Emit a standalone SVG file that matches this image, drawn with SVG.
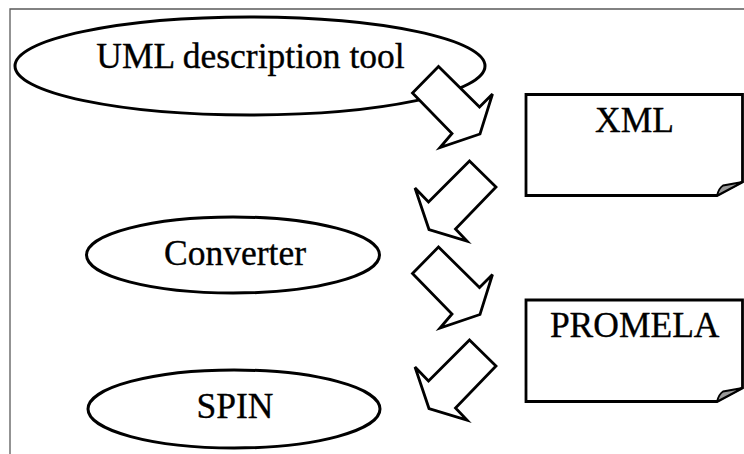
<svg xmlns="http://www.w3.org/2000/svg" width="744" height="454" viewBox="0 0 744 454">
  <style>
    .frame { fill: none; stroke: #5a5a5a; stroke-width: 1.3; }
    .oval { fill: #ffffff; stroke: #000000; stroke-width: 3; }
    .page { fill: #ffffff; stroke: #000000; stroke-width: 2.8; stroke-linejoin: miter; }
    .curl { fill: #9a9a9a; stroke: #000000; stroke-width: 1.8; stroke-linejoin: round; }
    .flow { fill: #ffffff; stroke: #000000; stroke-width: 2.8; stroke-linejoin: miter; }
    .label { font-family: "Liberation Serif", "Times New Roman", serif; font-size: 35.5px; fill: #000000; stroke: #000000; stroke-width: 0.35; text-anchor: middle; }
  </style>

  <rect x="0" y="0" width="744" height="454" fill="#ffffff"/>
  <!-- outer frame: only top and left edges fall inside the canvas -->
  <path class="frame" d="M744,9 H10 V454"/>

  <g id="uml-tool">
    <ellipse class="oval" cx="250" cy="66" rx="235" ry="49"/>
    <text class="label" x="250.5" y="68">UML description tool</text>
  </g>

  <g id="xml">
    <path class="page" d="M526,94.5 H742.5 V182 L717,195.5 H526 Z"/>
    <path class="curl" d="M717,195.5 Q719,188 723,185.5 L742.5,182 Z"/>
    <text class="label" x="634.5" y="131.5">XML</text>
  </g>

  <g id="converter">
    <ellipse class="oval" cx="233" cy="255" rx="146.5" ry="38"/>
    <text class="label" x="235" y="265">Converter</text>
  </g>

  <g id="promela">
    <path class="page" d="M526,300 H742.5 V388 L717,401.5 H526 Z"/>
    <path class="curl" d="M717,401.5 Q719,394 723,391.5 L742.5,388 Z"/>
    <text class="label" x="634.7" y="337.3">PROMELA</text>
  </g>

  <g id="spin">
    <ellipse class="oval" cx="234" cy="409" rx="146" ry="39"/>
    <text class="label" x="235" y="418.3">SPIN</text>
  </g>

  <!-- block arrows linking the steps -->
  <g id="connectors">
    <polygon class="flow" points="438.5,66.5 412.5,93 452,133.5 440,147.5 480,134 492.5,94 479.5,107"/>
    <polygon class="flow" points="469.5,161 496,187 455.5,229 467,241 429,229.5 415,188 428.5,202"/>
    <polygon class="flow" points="438.5,247 412.5,273.5 452,314 440,328 480,314.5 492.5,274.5 479.5,287.5"/>
    <polygon class="flow" points="469.5,340 496,366 455.5,408 467,420 429,408.5 415,367 428.5,381"/>
  </g>
</svg>
